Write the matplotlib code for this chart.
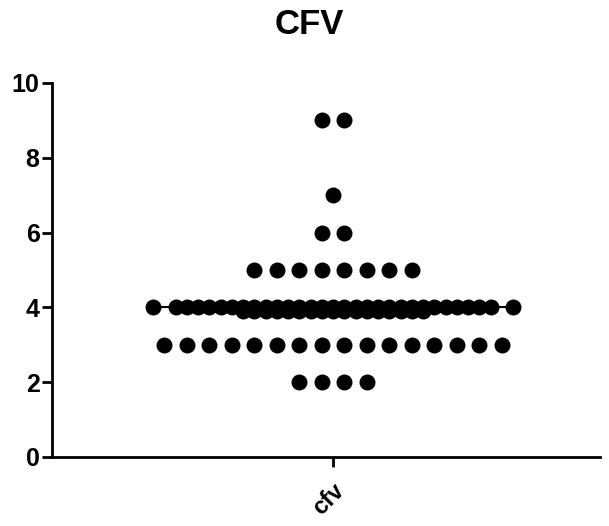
import numpy as np
import matplotlib
matplotlib.use("Agg")
import matplotlib.pyplot as plt

# ---- data ----
category = "cfv"
title = "CFV"
values = [2]*4 + [3]*16 + [4]*48 + [5]*8 + [6]*2 + [7]*1 + [9]*2
median_value = 4
yticks = [0, 2, 4, 6, 8, 10]

plt.rcParams['font.family'] = ['Liberation Sans', 'DejaVu Sans']
plt.rcParams['font.weight'] = 'bold'

fig = plt.figure(figsize=(6.09, 5.26), dpi=100)
W, H = 609, 526
ax = fig.add_axes([52/W, 1-457/H, (600-52)/W, (457-83)/H])

# layout (Prism-like scatter): x in pixel-like units around category centre
px = 400.0  # pixels per x unit
cx = 1.0
sp = 22.5 / px
row_max = 17

xs, ys = [], []
vals = np.array(values)
for v in sorted(set(values)):
    n = int((vals == v).sum())
    a = min(n, row_max)
    offs = (np.arange(a) - (a - 1) / 2) * sp
    xs += list(cx + offs); ys += [v] * a
    rem = n - a
    if rem > 0:
        b = min(rem, row_max - 3)
        offs = (np.arange(b) - (b - 1) / 2) * sp
        xs += list(cx + offs); ys += [v] * b
        rem -= b
    if rem > 0:
        offs = (np.arange(rem) - (rem - 1) / 2) * sp / 2
        xs += list(cx + offs); ys += [v - 0.1] * rem

ax.scatter(xs, ys, s=11.5**2, color='black', linewidths=0, zorder=3)
ax.plot([cx - 180/px, cx + 180/px], [median_value]*2, color='black', lw=1.5, zorder=2)

ax.set_xlim(cx - 281/px, cx + 267/px)
ax.set_ylim(0, 10)
ax.set_yticks(yticks)
ax.set_xticks([cx])
ax.set_xticklabels([category], rotation=45, ha='right', va='top',
                   rotation_mode='anchor', fontsize=17, fontweight='bold')
ax.set_yticklabels([str(t) for t in yticks], fontsize=18, fontweight='bold')
for s in ['top', 'right']:
    ax.spines[s].set_visible(False)
for s in ['left', 'bottom']:
    ax.spines[s].set_linewidth(2)
ax.tick_params(width=2, length=7, pad=2)
ax.tick_params(axis='x', pad=9)

fig.suptitle(title, x=309/W, y=1-8/H, va='top', fontsize=25, fontweight='bold')

fig.savefig('out.png', dpi=100)
